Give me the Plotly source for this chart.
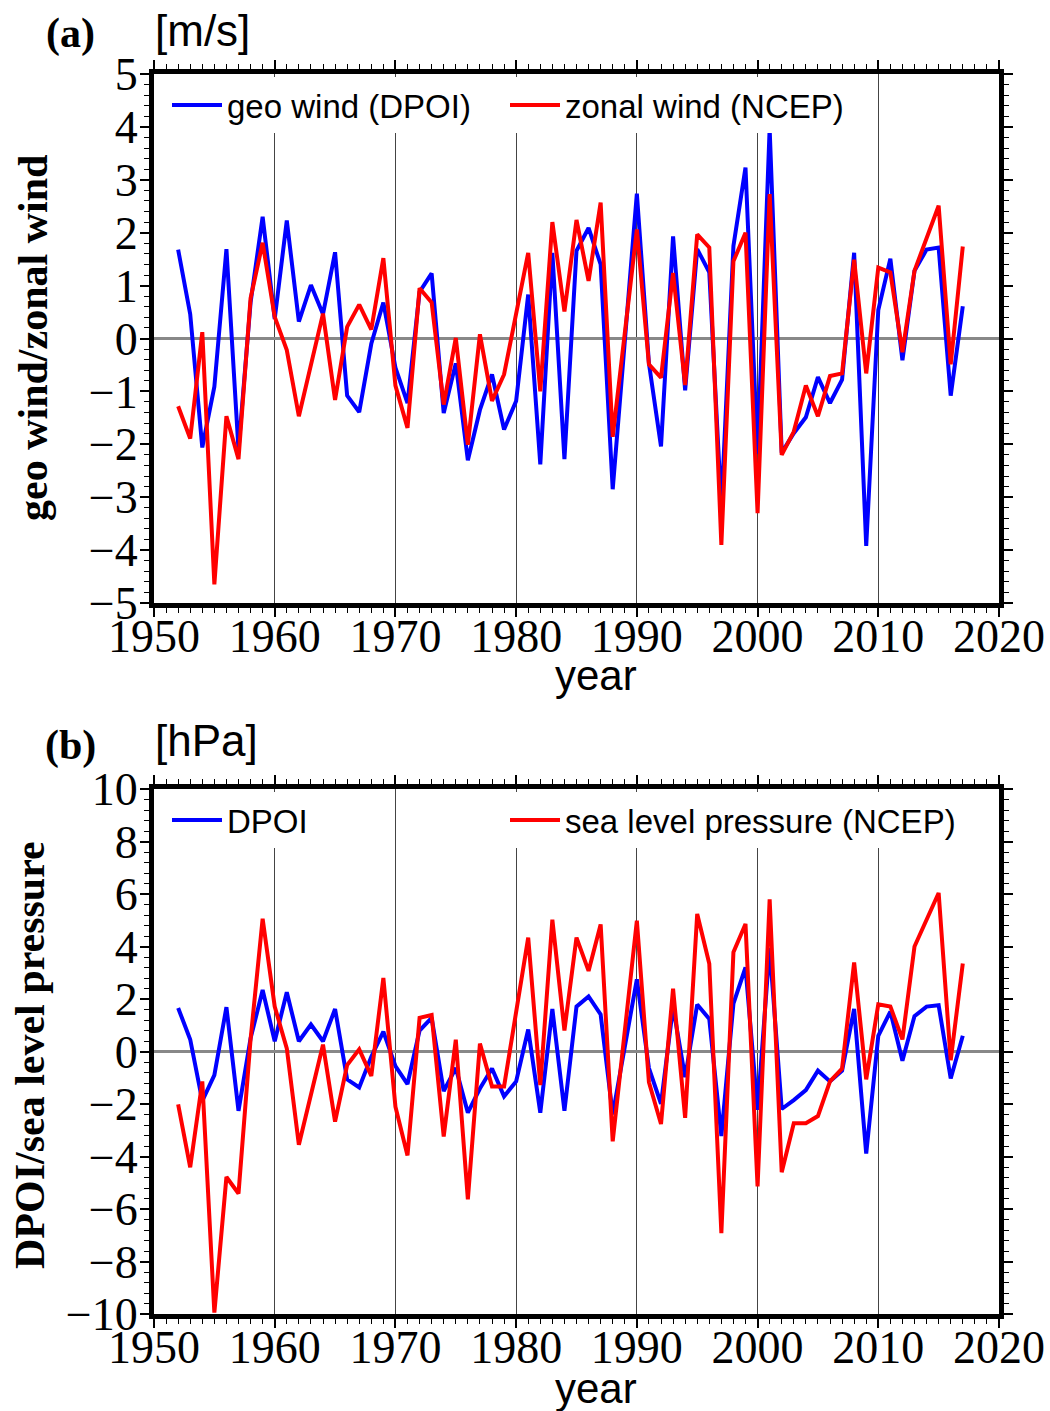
import plotly.graph_objects as go

years = list(range(1952, 2018))

geo_wind = [1.68, 0.46, -2.06, -0.91, 1.69, -2.1, 0.68, 2.3, 0.37, 2.23,
            0.32, 1.01, 0.46, 1.63, -1.08, -1.39, -0.1, 0.68, -0.55, -1.22,
            0.88, 1.23, -1.41, -0.47, -2.3, -1.35, -0.68, -1.72, -1.18, 0.83,
            -2.38, 1.62, -2.28, 1.66, 2.09, 1.4, -2.85, -0.05, 2.74, -0.47,
            -2.04, 1.93, -0.98, 1.69, 1.25, -3.2, 1.75, 3.23, -2.18, 3.97,
            -2.16, -1.79, -1.49, -0.73, -1.22, -0.78, 1.62, -3.92, 0.54, 1.51,
            -0.41, 1.28, 1.68, 1.72, -1.08, 0.61]

zonal_wind = [-1.28, -1.89, 0.12, -4.65, -1.47, -2.28, 0.76, 1.81, 0.41, -0.22,
              -1.47, -0.51, 0.47, -1.16, 0.22, 0.64, 0.17, 1.52, -0.89, -1.69,
              0.95, 0.68, -1.25, 0.01, -2.01, 0.08, -1.18, -0.68, 0.47, 1.62,
              -1.0, 2.2, 0.51, 2.24, 1.09, 2.57, -1.86, 0.1, 2.06, -0.49,
              -0.74, 1.24, -0.88, 1.97, 1.72, -3.9, 1.46, 2.0, -3.3, 2.73,
              -2.2, -1.76, -0.89, -1.47, -0.71, -0.66, 1.49, -0.66, 1.34, 1.25,
              -0.26, 1.28, 1.89, 2.51, -0.49, 1.74]

dpoi = [1.66, 0.46, -1.88, -0.9, 1.69, -2.26, 0.5, 2.34, 0.39, 2.26,
        0.39, 1.03, 0.39, 1.62, -1.06, -1.37, -0.2, 0.76, -0.56, -1.24,
        0.8, 1.28, -1.51, -0.63, -2.33, -1.41, -0.65, -1.71, -1.14, 0.84,
        -2.33, 1.62, -2.26, 1.71, 2.1, 1.41, -2.4, 0.2, 2.75, -0.63,
        -1.99, 1.7, -0.98, 1.79, 1.24, -3.22, 1.82, 3.2, -2.22, 3.95,
        -2.19, -1.85, -1.47, -0.73, -1.14, -0.73, 1.62, -3.89, 0.6, 1.52,
        -0.35, 1.35, 1.71, 1.76, -1.03, 0.6]

slp = [-2.01, -4.41, -1.14, -9.95, -4.78, -5.41, 0.46, 5.06, 1.71, 0.12,
       -3.55, -1.65, 0.26, -2.67, -0.52, 0.08, -0.93, 2.8, -2.1, -3.96,
       1.28, 1.39, -3.24, 0.45, -5.63, 0.3, -1.33, -1.33, 1.5, 4.34,
       -1.28, 5.02, 0.8, 4.34, 3.07, 4.84, -3.42, 0.8, 4.98, -1.17,
       -2.76, 2.39, -2.53, 5.24, 3.34, -6.92, 3.78, 4.86, -5.14, 5.8,
       -4.6, -2.73, -2.73, -2.46, -1.14, -0.65, 3.39, -1.06, 1.8, 1.71,
       0.46, 4.0, 4.98, 6.04, -0.33, 3.35]

W, H = 1050, 1411
BLUE = "#0000ff"
RED = "#ff0000"
SERIF = "Liberation Serif"
SANS = "Liberation Sans"
LW = 4


def px(x):
    return x / W


def py(y):
    return 1 - y / H


fig = go.Figure()
fig.add_trace(go.Scatter(x=years, y=geo_wind, mode="lines", name="geo wind (DPOI)",
                         line=dict(color=BLUE, width=LW), xaxis="x", yaxis="y", legend="legend"))
fig.add_trace(go.Scatter(x=years, y=zonal_wind, mode="lines", name="zonal wind (NCEP)",
                         line=dict(color=RED, width=LW), xaxis="x", yaxis="y", legend="legend2"))
fig.add_trace(go.Scatter(x=years, y=dpoi, mode="lines", name="DPOI",
                         line=dict(color=BLUE, width=LW), xaxis="x2", yaxis="y2", legend="legend3"))
fig.add_trace(go.Scatter(x=years, y=slp, mode="lines", name="sea level pressure (NCEP)",
                         line=dict(color=RED, width=LW), xaxis="x2", yaxis="y2", legend="legend4"))

tickfont = dict(family=SERIF, size=46, color="black")


def xaxis_cfg(anchor):
    return dict(domain=[px(154), px(999)], anchor=anchor, range=[1950, 2020],
                tickmode="linear", tick0=1950, dtick=10, automargin=False,
                showline=True, linewidth=5, linecolor="black", mirror="allticks",
                ticks="outside", ticklen=9, tickwidth=1.5, tickcolor="black",
                minor=dict(dtick=1, ticklen=5, tickwidth=1, tickcolor="black", showgrid=False),
                showgrid=True, gridcolor="#444444", gridwidth=1,
                zeroline=False, tickfont=tickfont, ticklabelstandoff=-20)


def yaxis_cfg(anchor, top, bottom, lim, dt, mdt):
    return dict(domain=[py(bottom), py(top)], anchor=anchor, range=[-lim, lim],
                tickmode="linear", tick0=0, dtick=dt, automargin=False,
                showline=True, linewidth=5, linecolor="black", mirror="allticks",
                ticks="outside", ticklen=9, tickwidth=1.5, tickcolor="black",
                minor=dict(dtick=mdt, ticklen=5, tickwidth=1, tickcolor="black", showgrid=False),
                showgrid=False, zeroline=True, zerolinecolor="#888888", zerolinewidth=3,
                tickfont=tickfont, ticklabelstandoff=-7)


legend_common = dict(orientation="h", xanchor="left", yanchor="top",
                     bgcolor="white", borderwidth=0,
                     font=dict(family=SANS, size=33, color="black"), itemwidth=50)

fig.update_layout(
    width=W, height=H, margin=dict(l=0, r=0, t=0, b=0, autoexpand=False),
    paper_bgcolor="white", plot_bgcolor="white",
    xaxis=xaxis_cfg("y"),
    yaxis=yaxis_cfg("x", 74, 603, 5, 1, 0.2),
    xaxis2=xaxis_cfg("y2"),
    yaxis2=yaxis_cfg("x2", 789, 1314, 10, 2, 0.4),
    legend=dict(x=px(167), y=py(77), **legend_common),
    legend2=dict(x=px(505), y=py(77), **legend_common),
    legend3=dict(x=px(167), y=py(792), **legend_common),
    legend4=dict(x=px(505), y=py(792), **legend_common),
    showlegend=True,
)

annotations = [
    dict(text="<b>(a)</b>", x=px(70), y=py(33), font=dict(family=SERIF, size=42)),
    dict(text="[m/s]", x=px(153), y=py(30), xanchor="left", font=dict(family=SANS, size=44)),
    dict(text="<b>geo wind/zonal wind</b>", x=px(33), y=py(338), textangle=-90,
         font=dict(family=SERIF, size=42)),
    dict(text="year", x=px(596), y=py(675), font=dict(family=SANS, size=42)),
    dict(text="<b>(b)</b>", x=px(70), y=py(745), font=dict(family=SERIF, size=42)),
    dict(text="[hPa]", x=px(153), y=py(740), xanchor="left", font=dict(family=SANS, size=44)),
    dict(text="<b>DPOI/sea level pressure</b>", x=px(30), y=py(1055), textangle=-90,
         font=dict(family=SERIF, size=42)),
    dict(text="year", x=px(596), y=py(1388), font=dict(family=SANS, size=42)),
]
for a in annotations:
    a.setdefault("xanchor", "center")
    a.update(xref="paper", yref="paper", yanchor="middle", showarrow=False)
    a["font"]["color"] = "black"
fig.update_layout(annotations=annotations)

fig.write_html("out.html")
